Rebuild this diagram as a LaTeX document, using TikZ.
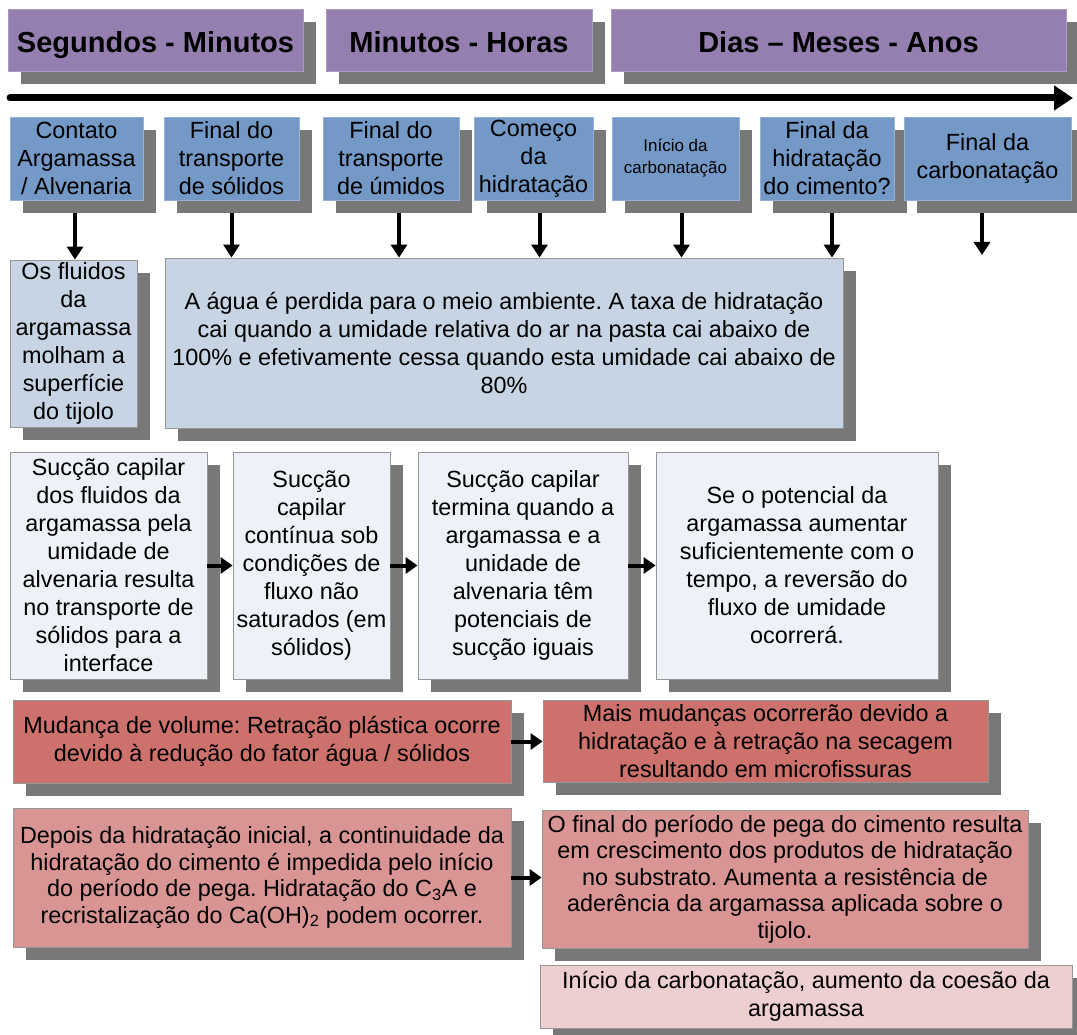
\documentclass[tikz,border=0pt]{standalone}
\usepackage{fontspec}
\setmainfont{Liberation Sans}
\usetikzlibrary{arrows.meta,shadows}
\frenchspacing

\definecolor{hdrfill}{RGB}{149,127,176}
\definecolor{evfill}{RGB}{116,153,199}
\definecolor{bluefill}{RGB}{198,212,228}
\definecolor{palefill}{RGB}{238,241,247}
\definecolor{redfill}{RGB}{205,113,108}
\definecolor{rosefill}{RGB}{217,149,148}
\definecolor{pinkfill}{RGB}{238,207,207}
\definecolor{shadowgray}{RGB}{120,120,120}
\definecolor{edgegray}{RGB}{150,150,150}

\tikzset{
  card/.style={draw=edgegray, line width=0.8pt, inner sep=0pt, align=center,
    text=black, font=\fontsize{23.4}{28}\selectfont,
    drop shadow={shadow xshift=13pt, shadow yshift=-13pt, fill=shadowgray, opacity=1}},
  period/.style={card, fill=hdrfill, draw=hdrfill!80!white,
    text height=25pt, text depth=0pt,
    font=\bfseries\fontsize{29}{34}\selectfont},
  event/.style={card, fill=evfill, draw=evfill!75!white},
  effect/.style={card, fill=bluefill},
  process/.style={card, fill=palefill},
  change/.style={card, fill=redfill},
  setting/.style={card, fill=rosefill, font=\fontsize{23.4}{26.5}\selectfont},
  late/.style={card, fill=pinkfill},
  timeline/.style={line width=7pt, line cap=round, -{Triangle[length=19pt,width=24pt]}},
  darr/.style={line width=4pt, -{Triangle[length=13pt,width=16pt]}},
  harr/.style={line width=4pt, -{Triangle[length=12pt,width=16pt]}}
}

\begin{document}
\begin{tikzpicture}[x=1pt, y=-1pt]
  \useasboundingbox (0,0) rectangle (1077,1035);
  \fill[white] (0,0) rectangle (1077,1035);

  % time scales
  \node[period, minimum width=295pt, minimum height=62pt] (h1) at (155.5,40) {Segundos - Minutos};
  \node[period, minimum width=266pt, minimum height=62pt] (h2) at (459,40) {Minutos - Horas};
  \node[period, minimum width=455pt, minimum height=62pt] (h3) at (838.5,40) {Dias – Meses - Anos};

  % time axis
  \coordinate (t0) at (10,98);
  \coordinate (t1) at (1073,98);
  \draw[timeline] (t0) -- (t1);

  % milestones
  \node[event, minimum width=133pt, minimum height=83pt] (e1) at (76.5,158.5) {Contato\\Argamassa\\/ Alvenaria};
  \node[event, minimum width=135pt, minimum height=83pt] (e2) at (231.5,158.5) {Final do\\transporte\\de sólidos};
  \node[event, minimum width=136pt, minimum height=83pt] (e3) at (391,158.5) {Final do\\transporte\\de úmidos};
  \node[event, minimum width=119pt, minimum height=83pt] (e4) at (533.5,158.5) {Começo\\da\\hidratação};
  \node[event, minimum width=127pt, minimum height=83pt, font=\fontsize{17}{22}\selectfont] (e5) at (675.5,158.5) {Início da\\carbonatação};
  \node[event, minimum width=134pt, minimum height=83pt] (e6) at (827,158.5) {Final da\\hidratação\\do cimento?};
  \node[event, minimum width=167pt, minimum height=83pt] (e7) at (987.5,158.5) {Final da\\carbonatação};

  % first effects
  \node[effect, minimum width=127pt, minimum height=167pt] (b1) at (73.5,343.5)
    {Os fluidos\\da\\argamassa\\molham a\\superfície\\do tijolo};
  \node[effect, minimum width=678pt, minimum height=170pt] (b2) at (504,343)
    {A água é perdida para o meio ambiente. A taxa de hidratação\\
     cai quando a umidade relativa do ar na pasta cai abaixo de\\
     100\% e efetivamente cessa quando esta umidade cai abaixo de\\
     80\%};

  % suction sequence
  \node[process, minimum width=197pt, minimum height=227pt] (c1) at (108.5,565.5)
    {Sucção capilar\\dos fluidos da\\argamassa pela\\umidade de\\alvenaria resulta\\no transporte de\\sólidos para a\\interface};
  \node[process, minimum width=157pt, minimum height=227pt] (c2) at (311.5,565.5)
    {Sucção\\capilar\\contínua sob\\condições de\\fluxo não\\saturados (em\\sólidos)};
  \node[process, minimum width=210pt, minimum height=227pt] (c3) at (523,565.5)
    {Sucção capilar\\termina quando a\\argamassa e a\\unidade de\\alvenaria têm\\potenciais de\\sucção iguais};
  \node[process, minimum width=282pt, minimum height=227pt] (c4) at (797,565.5)
    {Se o potencial da\\argamassa aumentar\\suficientemente com o\\tempo, a reversão do\\fluxo de umidade\\ocorrerá.};

  % volume changes
  \node[change, minimum width=498pt, minimum height=83pt] (r1) at (262,741.5)
    {Mudança de volume: Retração plástica ocorre\\devido à redução do fator água / sólidos};
  \node[change, minimum width=445pt, minimum height=82pt] (r2) at (765.5,741)
    {Mais mudanças ocorrerão devido a\\hidratação e à retração na secagem\\resultando em microfissuras};

  % setting and hardening
  \node[setting, minimum width=498pt, minimum height=139pt] (p1) at (262,877.5)
    {Depois da hidratação inicial, a continuidade da\\hidratação do cimento é impedida pelo início\\do período de pega. Hidratação do C\textsubscript{3}A e\\recristalização do Ca(OH)\textsubscript{2} podem ocorrer.};
  \node[setting, minimum width=486pt, minimum height=138pt] (p2) at (785,879)
    {O final do período de pega do cimento resulta\\em crescimento dos produtos de hidratação\\no substrato. Aumenta a resistência de\\aderência da argamassa aplicada sobre o\\tijolo.};
  \node[late, minimum width=532pt, minimum height=63pt] (p3) at (806,996.5)
    {Início da carbonatação, aumento da coesão da\\argamassa};

  % milestone arrows
  \coordinate (e7end) at (982,255);
  \draw[darr, shorten <=13pt] ([xshift=-1.5pt]e1.south) -- ([xshift=-1.5pt]e1.south |- b1.north);
  \draw[darr, shorten <=13pt] (e2.south) -- (e2.south |- b2.north);
  \draw[darr, shorten <=13pt] ([xshift=8pt]e3.south) -- ([xshift=8pt]e3.south |- b2.north);
  \draw[darr, shorten <=13pt] ([xshift=6pt]e4.south) -- ([xshift=6pt]e4.south |- b2.north);
  \draw[darr, shorten <=13pt] ([xshift=6pt]e5.south) -- ([xshift=6pt]e5.south |- b2.north);
  \draw[darr, shorten <=13pt] ([xshift=5pt]e6.south) -- ([xshift=5pt]e6.south |- b2.north);
  \draw[darr, shorten <=13pt] (e7.south -| e7end) -- (e7end);

  % sequence arrows
  \draw[harr] (c1.east) -- (c2.west);
  \draw[harr] (c2.east) -- (c3.west);
  \draw[harr] (c3.east) -- (c4.west);
  \draw[harr] (r1.east) -- (r1.east -| r2.west);
  \draw[harr] (p1.east) -- (p1.east -| p2.west);
\end{tikzpicture}
\end{document}
